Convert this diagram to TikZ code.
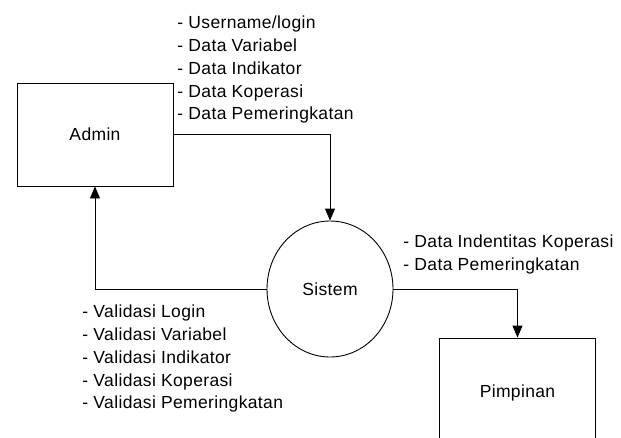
\documentclass[tikz,border=0pt]{standalone}
\usepackage{fontspec}
\setmainfont[LetterSpace=2]{Liberation Sans}
\usetikzlibrary{shapes.geometric,arrows.meta}

\tikzset{
  entity/.style={draw, rectangle, inner sep=0pt, minimum width=156pt,
    minimum height=103pt, text depth=0pt},
  process/.style={draw, ellipse, inner sep=0pt, minimum width=126pt,
    minimum height=136pt},
  flow/.style={line width=0.9pt, -{Triangle[length=12pt,width=10pt]}},
  flowlabel/.style={anchor=north west, inner sep=0pt, align=left,
    font=\fontsize{17.5}{22.7}\selectfont},
}

\begin{document}
\begin{tikzpicture}[x=1pt, y=-1pt, line width=0.9pt,
  every node/.append style={font=\fontsize{17.5}{20}\selectfont}]
  \useasboundingbox (0,0) rectangle (621,437);
  \clip (0,0) rectangle (621,437);

  % external entities and the process
  \node[entity] (admin) at (95,134.5) {Admin};
  \node[process] (sistem) at (330,289) {Sistem};
  \node[entity, minimum height=106pt] (pimpinan) at (517.5,391) {Pimpinan};

  % data flows
  \draw[flow] (admin.east) -| (sistem.north);
  \draw[flow] (sistem.west) -| (admin.south);
  \draw[flow] (sistem.east) -| (pimpinan.north);

  % flow labels
  \node[flowlabel] (lblinput) at (177,15.8)
    {- Username/login\\- Data Variabel\\- Data Indikator\\- Data Koperasi\\- Data Pemeringkatan};
  \node[flowlabel] (lblvalid) at (82,304.8)
    {- Validasi Login\\- Validasi Variabel\\- Validasi Indikator\\- Validasi Koperasi\\- Validasi Pemeringkatan};
  \node[flowlabel] (lblreport) at (403,234.8)
    {- Data Indentitas Koperasi\\- Data Pemeringkatan};
\end{tikzpicture}
\end{document}
